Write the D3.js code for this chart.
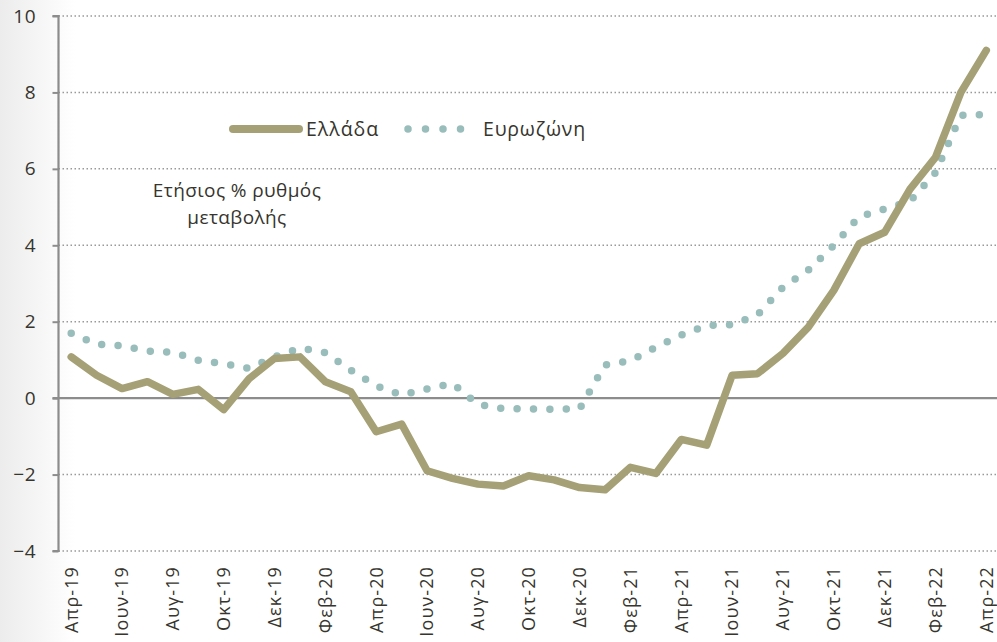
<!DOCTYPE html>
<html>
<head>
<meta charset="utf-8">
<script src="https://cdn.jsdelivr.net/npm/d3@7"></script>
<style>
html,body{margin:0;padding:0;background:#fff;}
svg{display:block;font-family:"Open Sans",sans-serif;}
</style>
</head>
<body>
<svg id="chart" width="997" height="642"></svg>
<script>
const months = ["Απρ-19","Μαϊ-19","Ιουν-19","Ιουλ-19","Αυγ-19","Σεπ-19","Οκτ-19","Νοε-19","Δεκ-19",
  "Ιαν-20","Φεβ-20","Μαρ-20","Απρ-20","Μαϊ-20","Ιουν-20","Ιουλ-20","Αυγ-20","Σεπ-20","Οκτ-20","Νοε-20","Δεκ-20",
  "Ιαν-21","Φεβ-21","Μαρ-21","Απρ-21","Μαϊ-21","Ιουν-21","Ιουλ-21","Αυγ-21","Σεπ-21","Οκτ-21","Νοε-21","Δεκ-21",
  "Ιαν-22","Φεβ-22","Μαρ-22","Απρ-22"];
const greece = [1.08,0.6,0.25,0.43,0.1,0.23,-0.3,0.51,1.04,1.08,0.43,0.17,-0.88,-0.68,-1.9,-2.1,-2.25,-2.3,-2.03,-2.14,-2.34,-2.4,-1.81,-1.97,-1.08,-1.23,0.6,0.64,1.17,1.86,2.82,4.04,4.34,5.47,6.3,8.0,9.1];
const eurozone = [1.7,1.41,1.37,1.23,1.2,0.99,0.9,0.78,1.08,1.31,1.19,0.73,0.32,0.08,0.24,0.38,-0.16,-0.28,-0.28,-0.29,-0.28,0.87,0.98,1.33,1.65,1.9,1.92,2.18,2.9,3.35,4.0,4.75,4.95,5.15,5.9,7.4,7.42];
const yTicks = [-4,-2,0,2,4,6,8,10];
const seriesNames = ["Ελλάδα","Ευρωζώνη"];
const yTitle = ["Ετήσιος % ρυθμός","μεταβολής"];

const colGreece = "#a5a075";
const colEuro = "#98bdbb";
const textCol = "#36352e";
const axisCol = "#8c8c8c";

const svg = d3.select("#chart");
const defs = svg.append("defs");
const grad = defs.append("linearGradient").attr("id","bg").attr("x1","0").attr("x2","1").attr("y1","0").attr("y2","0");
grad.append("stop").attr("offset","0").attr("stop-color","#ececec");
grad.append("stop").attr("offset","1").attr("stop-color","#ffffff");
svg.append("rect").attr("x",0).attr("y",0).attr("width",997).attr("height",642).attr("fill","#fff");
svg.append("rect").attr("x",0).attr("y",0).attr("width",75).attr("height",642).attr("fill","url(#bg)");

const x = d3.scalePoint().domain(months).range([58.5, 999]).padding(0.5);
const y = d3.scaleLinear().domain([-4,10]).range([551,16]);
const axisX = 58.5;

// gridlines
svg.append("g").selectAll("line").data(yTicks.filter(d=>d!==0)).join("line")
  .attr("x1",axisX).attr("x2",997).attr("y1",d=>y(d)).attr("y2",d=>y(d))
  .attr("stroke","#999").attr("stroke-width",1.5).attr("stroke-dasharray","1.5 2.5");

// y axis
const yAxis = d3.axisLeft(y).tickValues(yTicks).tickSize(6).tickPadding(16).tickFormat(d3.format("d"));
const gy = svg.append("g").attr("transform",`translate(${axisX},0)`).call(yAxis);
gy.select(".domain").attr("stroke",axisCol).attr("stroke-width",2.2).attr("d",`M-6,${y(10)}H0V${y(-4)}H-6`);
gy.selectAll(".tick line").attr("stroke",axisCol).attr("stroke-width",2);
gy.selectAll(".tick text").attr("fill",textCol).style("font-size","19px").style("letter-spacing","0.8px")
  .style("font-family","'Open Sans',sans-serif");

// zero line
svg.append("line").attr("x1",axisX-6).attr("x2",997).attr("y1",y(0)).attr("y2",y(0))
  .attr("stroke",axisCol).attr("stroke-width",2.2);

// x labels
const xLabels = months.filter((d,i)=>i%2===0);
svg.append("g").selectAll("text").data(xLabels).join("text")
  .attr("transform",d=>`translate(${x(d)},566) rotate(-90)`)
  .attr("text-anchor","end").attr("dy","0.35em")
  .attr("fill",textCol).style("font-size","18px").style("letter-spacing","1.1px")
  .text(d=>d);

// lines
const line = d3.line().x((d,i)=>x(months[i])).y(d=>y(d));
svg.append("path").datum(eurozone).attr("d",line)
  .attr("fill","none").attr("stroke",colEuro).attr("stroke-width",7.5)
  .attr("stroke-linecap","round").attr("stroke-dasharray","0 16.4");
svg.append("path").datum(greece).attr("d",line)
  .attr("fill","none").attr("stroke",colGreece).attr("stroke-width",7.5)
  .attr("stroke-linejoin","round").attr("stroke-linecap","round");

// legend
const lg = svg.append("g");
lg.append("line").attr("x1",233).attr("x2",299).attr("y1",129).attr("y2",129)
  .attr("stroke",colGreece).attr("stroke-width",8).attr("stroke-linecap","round");
lg.append("text").attr("x",306).attr("y",136).attr("fill",textCol).style("font-size","19.5px").style("letter-spacing","1px").text(seriesNames[0]);
lg.append("line").attr("x1",408).attr("x2",461).attr("y1",129).attr("y2",129)
  .attr("stroke",colEuro).attr("stroke-width",7.5).attr("stroke-linecap","round").attr("stroke-dasharray","0 17.5");
lg.append("text").attr("x",483).attr("y",136).attr("fill",textCol).style("font-size","19.5px").style("letter-spacing","0.8px").text(seriesNames[1]);

// y title
svg.append("g").selectAll("text").data(yTitle).join("text")
  .attr("x",237).attr("y",(d,i)=>197+i*27).attr("text-anchor","middle")
  .attr("fill",textCol).style("font-size","19px").style("letter-spacing","0.4px").text(d=>d);
</script>
</body>
</html>
